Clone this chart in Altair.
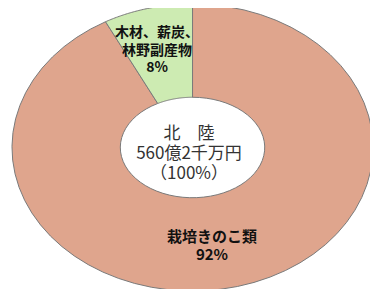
import altair as alt
import pandas as pd

categories = ["栽培きのこ類", "木材、薪炭、林野副産物"]
values = [92, 8]
order = [0, 1]
colors = ["#DFA58D", "#CDEBB2"]

center_lines = ["北　陸", "560億2千万円", "（100%）"]
wood_lines = ["木材、薪炭、", "林野副産物", "8%"]
mush_lines = ["栽培きのこ類", "92%"]

df = pd.DataFrame({"cat": categories, "val": values, "ord": order})

N = 60
base = alt.Chart(df).transform_joinaggregate(
    total="sum(val)"
).transform_window(
    cum="sum(val)", sort=[alt.SortField("ord")], frame=[None, 0]
).transform_calculate(
    a0="2*PI*(datum.cum - datum.val)/datum.total",
    a1="2*PI*datum.cum/datum.total",
    seq=f"sequence(0, {2*N+2})",
).transform_flatten(["seq"]).transform_calculate(
    outer=f"datum.seq <= {N}",
    t=f"datum.seq <= {N} ? datum.seq/{N} : ({2*N+1} - datum.seq)/{N}",
).transform_calculate(
    ang="datum.a0 + (datum.a1 - datum.a0)*datum.t",
    rx="datum.outer ? 1 : 0.40",
    ry="datum.outer ? 1 : 0.35",
).transform_calculate(
    px="datum.rx*sin(datum.ang)",
    py="datum.ry*cos(datum.ang)",
)

ring = base.mark_line(
    stroke="#7a7a7a", strokeWidth=1, interpolate="linear-closed", clip=False
).encode(
    x=alt.X("px:Q", scale=alt.Scale(domain=[-1.022, 0.983], nice=False, zero=False), axis=None),
    y=alt.Y("py:Q", scale=alt.Scale(domain=[-0.986, 0.972], nice=False, zero=False), axis=None),
    fill=alt.Fill("cat:N", scale=alt.Scale(domain=categories, range=colors), legend=None),
    detail="cat:N",
    order=alt.Order("seq:Q"),
)


def text_layer(lines, x, y0, y1, size, weight, color):
    d = pd.DataFrame({"t": lines, "i": list(range(len(lines)))})
    return alt.Chart(d).mark_text(
        font="Noto Sans CJK JP", fontSize=size, fontWeight=weight, color=color,
        baseline="middle", align="center",
    ).encode(
        x=alt.value(x),
        y=alt.Y("i:Q", scale=alt.Scale(domain=[0, len(lines) - 1], range=[y0, y1], nice=False, zero=False), axis=None),
        text="t:N",
    )


center = text_layer(center_lines, 181, 126, 166, 17, "normal", "#333333")
wood = text_layer(wood_lines, 149, 25, 60, 14, "bold", "#111111")
mush = text_layer(mush_lines, 204, 229, 247, 15, "bold", "#111111")

chart = alt.layer(ring, center, wood, mush).resolve_scale(y="independent").properties(
    width=362, height=281, padding=0, autosize="none", background="white"
).configure_view(stroke=None)

chart.save("out.html", embed_options={"renderer": "svg", "actions": False})
